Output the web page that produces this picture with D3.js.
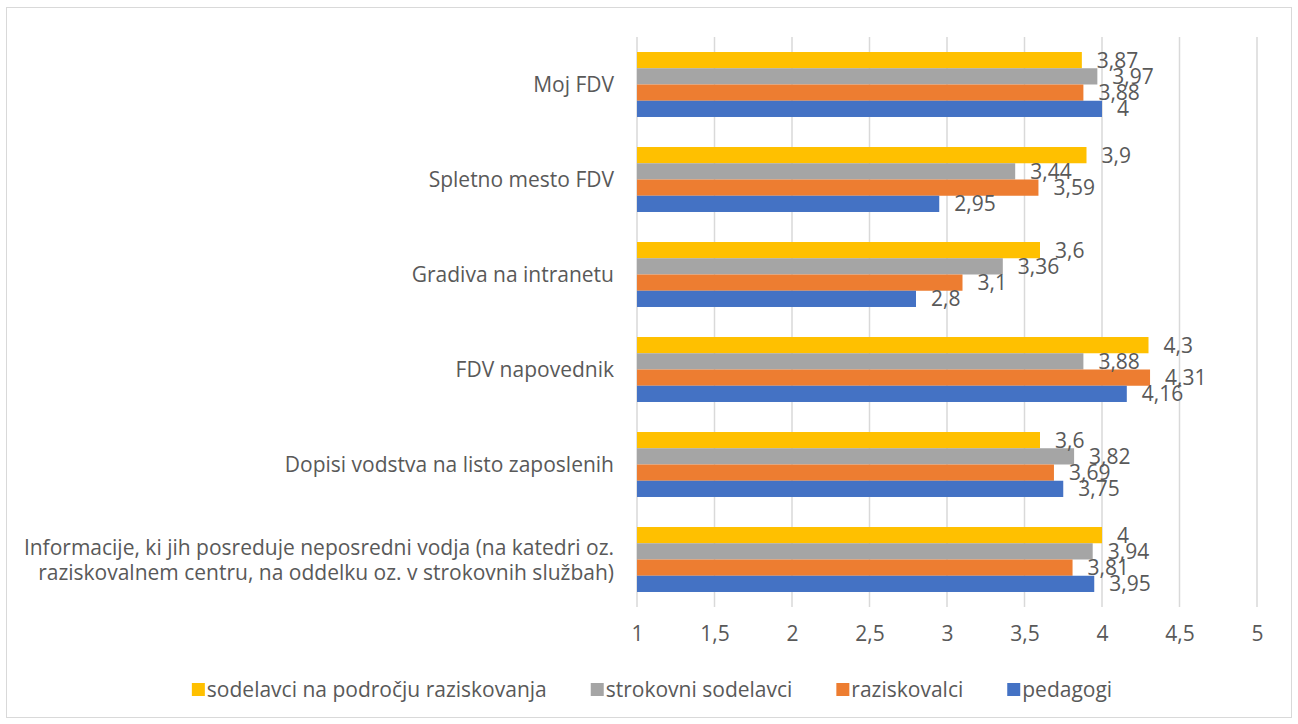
<!DOCTYPE html>
<html>
<head>
<meta charset="utf-8">
<script src="https://cdn.jsdelivr.net/npm/d3@7"></script>
<style>
body{margin:0;background:#fff;}
svg text{font-family:"Open Sans","Noto Sans",sans-serif;fill:#595959;}
</style>
</head>
<body>
<svg id="canvas" width="1298" height="724"></svg>
<script>
const categories=["Moj FDV","Spletno mesto FDV","Gradiva na intranetu","FDV napovednik","Dopisi vodstva na listo zaposlenih","Informacije, ki jih posreduje neposredni vodja (na katedri oz.|raziskovalnem centru, na oddelku oz. v strokovnih službah)"];
const seriesNames=["sodelavci na področju raziskovanja","strokovni sodelavci","raziskovalci","pedagogi"];
const sodelavci=[3.87,3.9,3.6,4.3,3.6,4];
const strokovni=[3.97,3.44,3.36,3.88,3.82,3.94];
const raziskovalci=[3.88,3.59,3.1,4.31,3.69,3.81];
const pedagogi=[4,2.95,2.8,4.16,3.75,3.95];
const colors=["#FFC000","#A5A5A5","#ED7D31","#4472C4"];
const xTicks=[1,1.5,2,2.5,3,3.5,4,4.5,5];

const series=[sodelavci,strokovni,raziskovalci,pedagogi];
let canvas=d3.select("#canvas");
let fmt=(v)=>String(v).replace(".",",");
let fs="21px";

canvas.append("rect").attr("x",6.5).attr("y",7.5).attr("width",1285).attr("height",710).attr("fill","#fff").attr("stroke","#d9d9d9").attr("stroke-width",1);

let xScale=d3.scaleLinear().domain([1,5]).range([637,1257]);
let yScale=d3.scaleBand().domain(categories).range([37,607]).paddingInner(0.316).paddingOuter(0.158);
let inner=d3.scaleBand().domain(d3.range(4)).range([0,yScale.bandwidth()]);

// gridlines
canvas.append("g").selectAll("line").data(xTicks).enter().append("line")
  .attr("x1",d=>xScale(d)).attr("x2",d=>xScale(d)).attr("y1",37).attr("y2",607)
  .attr("stroke","#d9d9d9").attr("stroke-width",1.5);

// x axis labels
let xAxis=d3.axisBottom(xScale).tickValues(xTicks).tickFormat(fmt).tickSize(0).tickPadding(19);
let gx=canvas.append("g").attr("transform","translate(0,607)").call(xAxis);
gx.select(".domain").remove();
gx.selectAll("text").style("font-size",fs).attr("fill","#595959").style("font-family","'Open Sans'");

// bars
categories.forEach((c,ci)=>{
  let g=canvas.append("g").attr("transform","translate(0,"+yScale(c)+")");
  g.selectAll("rect").data(series.map((s,si)=>({v:s[ci],si:si}))).enter().append("rect")
    .attr("x",xScale(1)).attr("y",d=>inner(d.si)).attr("height",inner.bandwidth())
    .attr("width",d=>xScale(d.v)-xScale(1)).attr("fill",d=>colors[d.si]);
  g.selectAll("text").data(series.map((s,si)=>({v:s[ci],si:si}))).enter().append("text")
    .attr("x",d=>xScale(d.v)+15).attr("y",d=>inner(d.si)+inner.bandwidth()/2).attr("dy","0.36em")
    .style("font-size",fs).text(d=>fmt(d.v));
});

// category labels
categories.forEach((c)=>{
  let lines=c.split("|");
  let cy=yScale(c)+yScale.bandwidth()/2;
  let t=canvas.append("text").attr("text-anchor","end").style("font-size",fs);
  lines.forEach((l,i)=>{
    t.append("tspan").attr("x",614).attr("y",cy+(i-(lines.length-1)/2)*25).attr("dy","0.36em").text(l);
  });
});

// legend
let lg=canvas.append("g");
let xpos=0;
seriesNames.forEach((n,i)=>{
  let it=lg.append("g").attr("transform","translate("+xpos+",0)");
  it.append("rect").attr("x",0).attr("y",-7).attr("width",13).attr("height",13).attr("fill",colors[i]);
  let tx=it.append("text").attr("x",15).attr("y",0).attr("dy","0.33em").style("font-size",fs).text(n);
  xpos+=15+tx.node().getComputedTextLength()+44;
});
xpos-=44;
lg.attr("transform","translate("+(652-xpos/2)+",690)");
</script>
</body>
</html>
